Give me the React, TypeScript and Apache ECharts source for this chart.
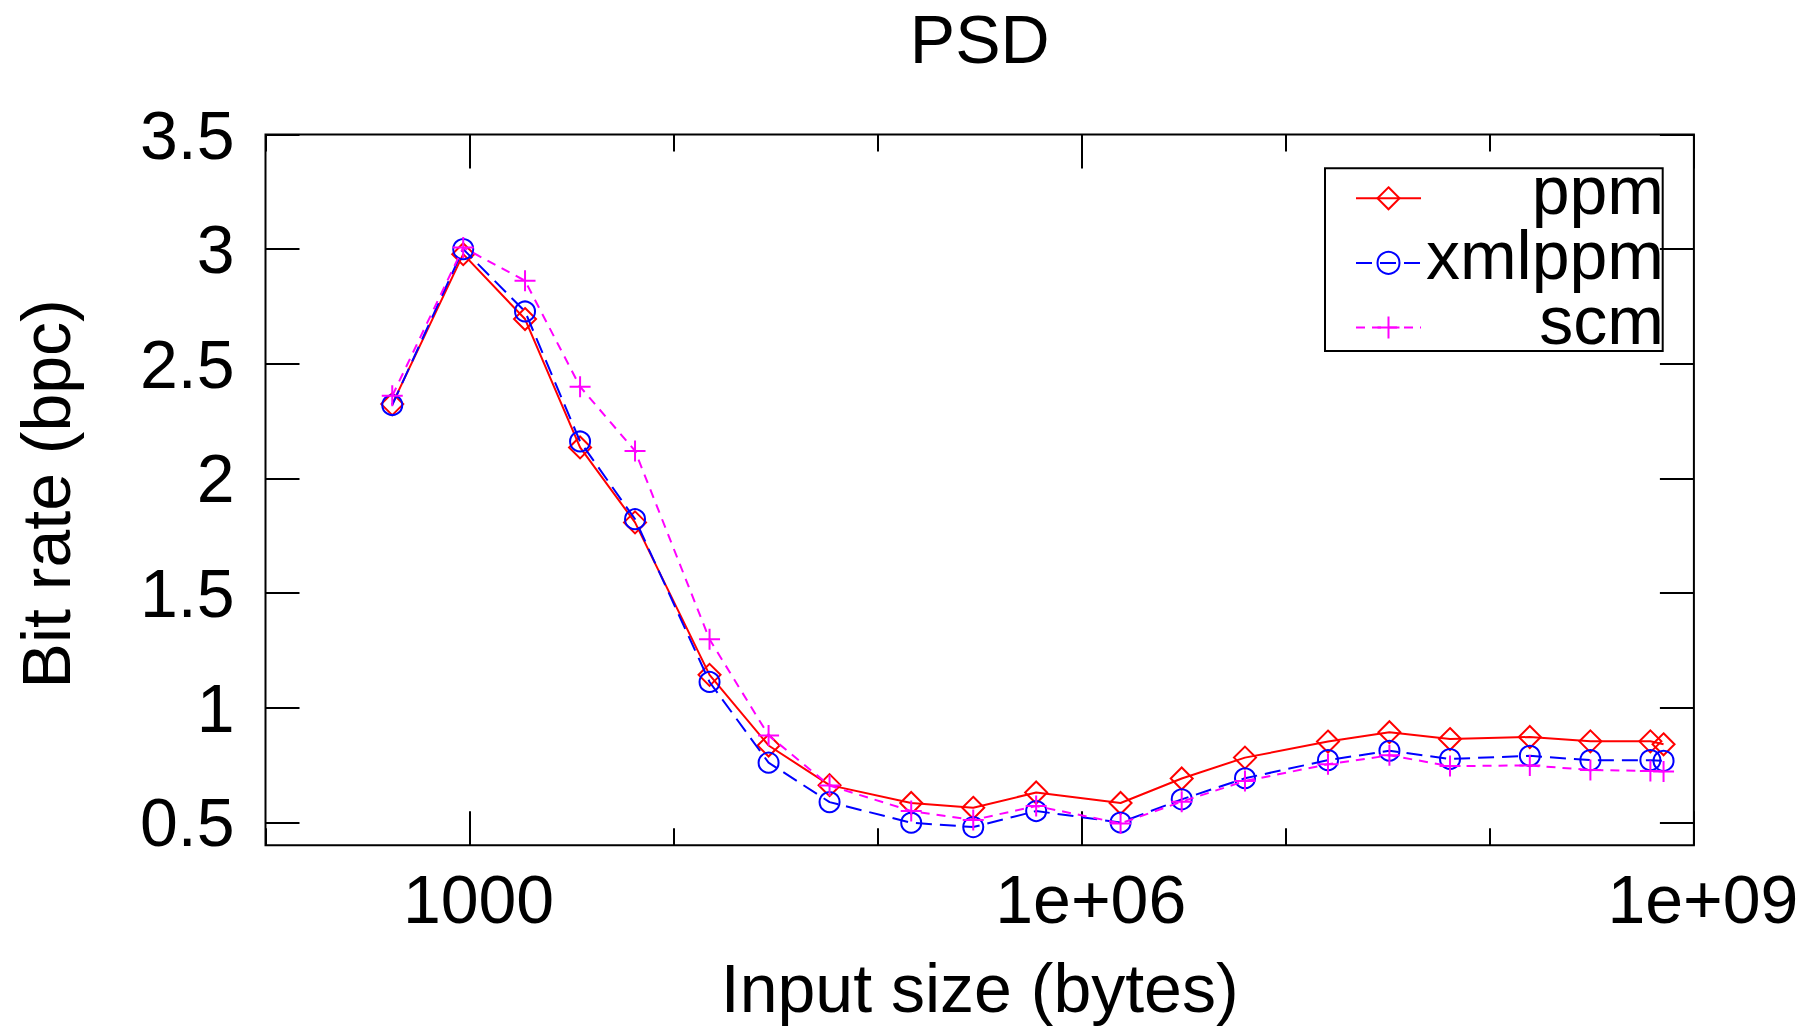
import React, { useEffect, useRef } from 'react';
import * as echarts from 'echarts';

const FONT = '"Liberation Sans", Arial, Helvetica, sans-serif';
const FS = 68;

// Input sizes in bytes (x values)
const inputSizes = [418, 931, 1870, 3480, 6470, 15000, 29200, 58100, 146000, 294000, 598000, 1550000, 3090000, 6310000, 16100000, 32200000, 63800000, 157000000, 311000000, 612000000, 710000000];
// Bit rates (bpc)
const ppm = [2.324, 2.978, 2.695, 2.135, 1.808, 1.143, 0.835, 0.662, 0.584, 0.563, 0.63, 0.584, 0.691, 0.782, 0.852, 0.893, 0.863, 0.872, 0.853, 0.853, 0.84];
const xmlppm = [2.32, 3.0, 2.728, 2.161, 1.822, 1.112, 0.76, 0.588, 0.498, 0.479, 0.549, 0.499, 0.6, 0.692, 0.771, 0.812, 0.776, 0.79, 0.771, 0.771, 0.768];
const scm = [2.36, 3.007, 2.862, 2.4, 2.12, 1.298, 0.879, 0.66, 0.549, 0.51, 0.571, 0.495, 0.59, 0.68, 0.753, 0.792, 0.745, 0.748, 0.728, 0.724, 0.721];

const seriesNames = ['ppm', 'xmlppm', 'scm'];
const xMajorTicks = [1e3, 1e6, 1e9];
const xMajorLabels = ['1000', '1e+06', '1e+09'];
const xMinorTicks = [1e2, 1e4, 1e5, 1e7, 1e8];
const yTicks = [0.5, 1, 1.5, 2, 2.5, 3, 3.5];

const X_MIN = 100;
const X_MAX = 1e9;
const Y_MIN = 0.4;
const Y_MAX = 3.5;

function fmtX(v: number): string {
  for (let i = 0; i < xMajorTicks.length; i++) {
    if (Math.abs(Math.log10(v) - Math.log10(xMajorTicks[i])) < 1e-6) return xMajorLabels[i];
  }
  return '';
}

export default function App() {
  const ref = useRef<HTMLDivElement>(null);
  useEffect(() => {
    if (!ref.current) return;
    const chart = echarts.init(ref.current, undefined, { renderer: 'svg' });
    const tickLine = { color: '#000', width: 2 };
    const xBase = (position: string, ticks: number[], len: number, labels: boolean, extra: any = {}) => ({
      type: 'log',
      logBase: 10,
      min: X_MIN,
      max: X_MAX,
      position,
      gridIndex: 0,
      axisLine: { show: false },
      axisTick: { show: true, inside: true, length: len, customValues: ticks, lineStyle: tickLine },
      axisLabel: labels
        ? {
            show: true,
            customValues: ticks,
            formatter: (v: number) => fmtX(v),
            fontSize: FS,
            fontFamily: FONT,
            color: '#000',
            margin: 20,
            padding: [0, 0, 0, 18],
          }
        : { show: false },
      splitLine: { show: false },
      minorTick: { show: false },
      axisPointer: { show: false },
      ...extra,
    });
    const yBase = (position: string, labels: boolean, extra: any = {}) => ({
      type: 'value',
      min: Y_MIN,
      max: Y_MAX,
      position,
      gridIndex: 0,
      axisLine: { show: false },
      axisTick: { show: true, inside: true, length: 34, customValues: yTicks, lineStyle: tickLine },
      axisLabel: labels
        ? {
            show: true,
            customValues: yTicks,
            fontSize: FS,
            fontFamily: FONT,
            color: '#000',
            margin: 31,
            padding: [0, 0, 14, 0],
          }
        : { show: false },
      splitLine: { show: false },
      ...extra,
    });

    const option: any = {
      animation: false,
      backgroundColor: '#fff',
      title: {
        text: 'PSD',
        left: 979.7,
        top: 4.5,
        textAlign: 'center',
        padding: 0,
        textStyle: { fontSize: FS, fontWeight: 'normal', color: '#000', fontFamily: FONT },
      },
      grid: {
        left: 265.5,
        top: 134.5,
        right: 124.1,
        bottom: 184.8,
        show: true,
        borderColor: '#000',
        borderWidth: 2,
        backgroundColor: 'transparent',
        containLabel: false,
      },
      xAxis: [
        xBase('bottom', xMajorTicks, 34, true, {
          name: 'Input size (bytes)',
          nameLocation: 'middle',
          nameGap: 109,
          nameTextStyle: { fontSize: FS, fontFamily: FONT, color: '#000' },
        }),
        xBase('bottom', xMinorTicks, 17, false),
        xBase('top', xMajorTicks, 34, false),
        xBase('top', xMinorTicks, 17, false),
      ],
      yAxis: [
        yBase('left', true, {
          name: 'Bit rate (bpc)',
          nameLocation: 'middle',
          nameGap: 186,
          nameTextStyle: { fontSize: FS, fontFamily: FONT, color: '#000', padding: [0, 8, 0, 0] },
        }),
        yBase('right', false),
      ],
      legend: {
        data: seriesNames,
        orient: 'vertical',
        left: 1325,
        top: 153.3,
        padding: [3, 0, 0, 30],
        itemWidth: 65,
        itemHeight: 27.5,
        itemGap: -3.4,
        borderWidth: 0,
        backgroundColor: 'transparent',
        selectedMode: false,
        formatter: '{a|{name}}',
        textStyle: {
          padding: [0, 0, 16, 0],
          rich: {
            a: { fontSize: FS, fontFamily: FONT, color: '#000', width: 238, align: 'right', lineHeight: 40 },
          },
        },
      },
      graphic: [
        {
          type: 'rect',
          silent: true,
          z: 10,
          shape: { x: 1325, y: 168.3, width: 337.7, height: 182.7 },
          style: { fill: 'none', stroke: '#000', lineWidth: 2 },
        },
      ],
      series: [
        {
          name: seriesNames[0],
          type: 'line',
          xAxisIndex: 0,
          yAxisIndex: 0,
          data: inputSizes.map((x, i) => [x, ppm[i]]),
          symbol: 'diamond',
          symbolSize: 22,
          lineStyle: { color: '#ff0000', width: 2, type: 'solid' },
          itemStyle: { color: 'rgba(0,0,0,0)', borderColor: '#ff0000', borderWidth: 2 },
          emphasis: { disabled: true },
          z: 3,
        },
        {
          name: seriesNames[1],
          type: 'line',
          xAxisIndex: 0,
          yAxisIndex: 0,
          data: inputSizes.map((x, i) => [x, xmlppm[i]]),
          symbol: 'circle',
          symbolSize: 20,
          lineStyle: { color: '#0000ff', width: 2, type: [16, 8] },
          itemStyle: { color: 'rgba(0,0,0,0)', borderColor: '#0000ff', borderWidth: 2 },
          emphasis: { disabled: true },
          z: 4,
        },
        {
          name: seriesNames[2],
          type: 'line',
          xAxisIndex: 0,
          yAxisIndex: 0,
          data: inputSizes.map((x, i) => [x, scm[i]]),
          symbol: 'path://M10 0 L10 20 M0 10 L20 10',
          symbolSize: 21,
          lineStyle: { color: '#ff00ff', width: 2, type: [9, 7] },
          itemStyle: { color: 'rgba(0,0,0,0)', borderColor: '#ff00ff', borderWidth: 2 },
          emphasis: { disabled: true },
          z: 5,
        },
      ],
    };
    chart.setOption(option);
    return () => chart.dispose();
  }, []);
  return (
    <div
      ref={ref}
      style={{ position: 'fixed', left: 0, top: 0, width: 1818, height: 1030, background: '#fff' }}
    />
  );
}
